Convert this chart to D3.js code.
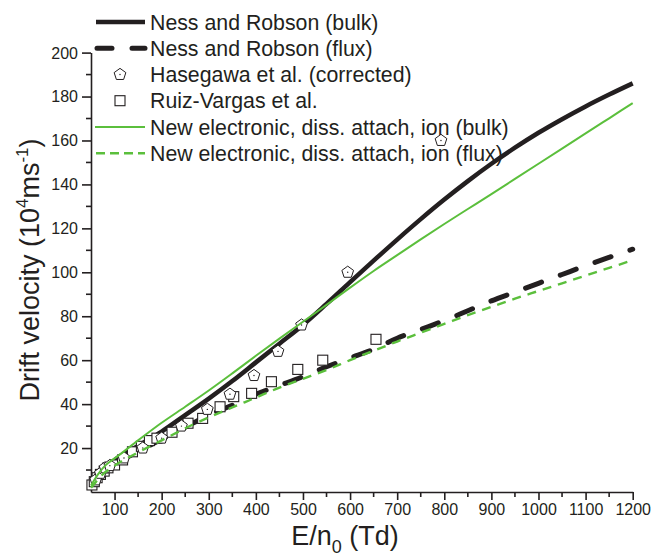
<!DOCTYPE html>
<html>
<head>
<meta charset="utf-8">
<script src="https://cdn.jsdelivr.net/npm/d3@7"></script>
<style>
  body { margin: 0; background: #fff; }
  svg { display: block; font-family: Arial, "Liberation Sans", sans-serif; }
</style>
</head>
<body>
<div id="chart"></div>
<script>
var width = 652, height = 556;

// E/n0 grid (Td) shared by the four computed curves
var fieldTd = [50, 60, 70, 80, 90, 100, 150, 200, 250, 300, 350, 400, 450, 500, 550, 600,
  650, 700, 750, 800, 850, 900, 950, 1000, 1050, 1100, 1150, 1200];

var nessBulk = [2, 5, 8, 10.5, 12.5, 14.5, 21, 27.5, 35, 42.5, 50.5, 59, 67.5, 76, 85.6, 95.5,
  105.3, 114.9, 124.2, 133.1, 141.5, 149.4, 156.7, 163.5, 169.7, 175.5, 180.9, 186];
var nessFlux = [2, 4.5, 7, 9, 11, 12.5, 18.5, 24, 29.5, 35, 39.5, 44.5, 48.5, 52.5, 57, 61,
  65, 70, 74, 78, 82.5, 87, 91, 95, 99, 103, 106.8, 110.5];
var newBulk = [3, 6.5, 9.5, 12, 13.8, 15.3, 23.5, 31.5, 38.8, 46.2, 54, 62, 69.8, 77.5, 85.2, 93,
  100.6, 107.8, 115, 122, 128.8, 135.6, 142.5, 149.4, 156.3, 163.2, 170.1, 177];
var newFlux = [2, 4.5, 7, 9, 10.5, 12, 18, 23.5, 29, 34, 38.5, 43, 47.5, 51.5, 55.5, 60,
  64.3, 68.5, 72.5, 76.5, 80.5, 84.3, 88, 91.5, 95, 98.5, 102, 105.5];

// measurements
var hasegawaX = [60, 70, 80, 90, 120, 160, 200, 242, 297, 345, 396, 447, 497, 595, 793];
var hasegawaY = [5.5, 8.5, 11, 12, 15.5, 20, 24.5, 30, 37.6, 44.5, 53, 64, 76, 100, 160];
var ruizX = [52, 57, 63, 70, 78, 86, 100, 117, 138, 157, 174, 190, 222, 256, 287, 324, 353, 391, 433, 489, 542, 655];
var ruizY = [3.2, 4.7, 6.5, 8, 9.5, 11, 12.3, 14.6, 18.3, 20.8, 23.4, 24.5, 27.2, 31.3, 33.5, 38.8, 43.4, 44.9, 50.2, 55.8, 60, 69.5];

var xMajor = [100, 200, 300, 400, 500, 600, 700, 800, 900, 1000, 1100, 1200];
var yMajor = [20, 40, 60, 80, 100, 120, 140, 160, 180, 200];

var legendLabels = ["Ness and Robson (bulk)", "Ness and Robson (flux)", "Hasegawa et al. (corrected)",
  "Ruiz-Vargas et al.", "New electronic, diss. attach, ion (bulk)", "New electronic, diss. attach, ion (flux)"];

var ink = "#231f20", green = "#5bbf3c";

var x = d3.scaleLinear().domain([50, 1200]).range([91, 632.7]);
var y = d3.scaleLinear().domain([0, 200]).range([492, 52.6]);

var svg = d3.select("#chart").append("svg")
    .attr("width", width)
    .attr("height", height);

// axes
var xAxis = d3.axisBottom(x).tickValues(xMajor).tickFormat(d3.format("d"))
    .tickSize(8).tickPadding(4).tickSizeOuter(0);
var yAxis = d3.axisLeft(y).tickValues(yMajor).tickFormat(d3.format("d"))
    .tickSize(9).tickPadding(4).tickSizeOuter(0);

var gx = svg.append("g").attr("transform", "translate(0," + y(0) + ")").call(xAxis);
var gy = svg.append("g").attr("transform", "translate(" + x(50) + ",0)").call(yAxis);

// minor ticks
gx.selectAll(".minor").data(d3.range(150, 1200, 100)).enter().append("line")
    .attr("x1", d => x(d)).attr("x2", d => x(d)).attr("y1", 0).attr("y2", 5);
gy.selectAll(".minor").data(d3.range(10, 200, 20)).enter().append("line")
    .attr("y1", d => y(d)).attr("y2", d => y(d)).attr("x1", 0).attr("x2", -5);

[gx, gy].forEach(function (g) {
  g.selectAll("path.domain").attr("stroke", ink).attr("stroke-width", 1.6);
  g.selectAll("line").attr("stroke", ink).attr("stroke-width", 1.6);
  g.selectAll("text").attr("fill", ink).style("font-size", "16px").style("font-family", "Arial, 'Liberation Sans', sans-serif");
});
gy.selectAll(".tick text").attr("dy", "0.34em");

// curves
var line = d3.line()
    .x(d => x(d[0]))
    .y(d => y(d[1]))
    .curve(d3.curveMonotoneX);

function pairs(xs, ys) { return xs.map((v, i) => [v, ys[i]]); }

svg.append("path").datum(pairs(fieldTd, nessBulk))
    .attr("d", line).attr("fill", "none").attr("stroke", ink).attr("stroke-width", 4.5);
svg.append("path").datum(pairs(fieldTd, nessFlux))
    .attr("d", line).attr("fill", "none").attr("stroke", ink).attr("stroke-width", 5)
    .attr("stroke-linecap", "round").attr("stroke-dasharray", "17,20");

// pentagon symbol
var pentagon = {
  draw: function (context, size) {
    var r = Math.sqrt(size / 2.378);
    for (var i = 0; i < 5; i++) {
      var a = -Math.PI / 2 + i * 2 * Math.PI / 5;
      if (i === 0) context.moveTo(r * Math.cos(a), r * Math.sin(a));
      else context.lineTo(r * Math.cos(a), r * Math.sin(a));
    }
    context.closePath();
  }
};

function drawPentagon(g, px, py) {
  g.append("path").attr("d", d3.symbol().type(pentagon).size(90)())
      .attr("transform", "translate(" + px + "," + py + ")")
      .attr("fill", "#fff").attr("stroke", ink).attr("stroke-width", 1);
  g.append("circle").attr("cx", px).attr("cy", py).attr("r", 0.7).attr("fill", ink);
}
function drawSquare(g, px, py) {
  g.append("rect").attr("x", px - 5).attr("y", py - 5).attr("width", 10).attr("height", 10)
      .attr("fill", "#fff").attr("stroke", ink).attr("stroke-width", 1.1);
}

var marks = svg.append("g");
ruizX.forEach(function (v, i) { drawSquare(marks, x(v), y(ruizY[i])); });
hasegawaX.forEach(function (v, i) { drawPentagon(marks, x(v), y(hasegawaY[i])); });

svg.append("path").datum(pairs(fieldTd, newBulk))
    .attr("d", line).attr("fill", "none").attr("stroke", green).attr("stroke-width", 2);
svg.append("path").datum(pairs(fieldTd, newFlux))
    .attr("d", line).attr("fill", "none").attr("stroke", green).attr("stroke-width", 2.4)
    .attr("stroke-dasharray", "9,7");

// legend
var leg = svg.append("g");
var rowY = [22, 48.3, 74.5, 100.7, 127, 153.3];
leg.append("line").attr("x1", 96).attr("x2", 145).attr("y1", rowY[0]).attr("y2", rowY[0])
    .attr("stroke", ink).attr("stroke-width", 4.5);
leg.append("line").attr("x1", 97).attr("x2", 145).attr("y1", rowY[1]).attr("y2", rowY[1])
    .attr("stroke", ink).attr("stroke-width", 5).attr("stroke-linecap", "round")
    .attr("stroke-dasharray", "15,20");
drawPentagon(leg, 120, rowY[2]);
drawSquare(leg, 120, rowY[3]);
leg.append("line").attr("x1", 95).attr("x2", 145).attr("y1", rowY[4]).attr("y2", rowY[4])
    .attr("stroke", green).attr("stroke-width", 2);
leg.append("line").attr("x1", 96).attr("x2", 145).attr("y1", rowY[5]).attr("y2", rowY[5])
    .attr("stroke", green).attr("stroke-width", 2.4).attr("stroke-dasharray", "9,5");

leg.selectAll("text.lab").data(legendLabels).enter().append("text")
    .attr("class", "lab")
    .attr("x", 150).attr("y", (d, i) => rowY[i] + 7.5)
    .attr("fill", ink).style("font-size", "21.3px")
    .text(d => d);

// axis titles
var xt = svg.append("text").attr("x", 345).attr("y", 545).attr("text-anchor", "middle")
    .attr("fill", ink).style("font-size", "27px");
xt.append("tspan").text("E/n");
xt.append("tspan").attr("dy", 8).style("font-size", "18px").text("0");
xt.append("tspan").attr("dy", -8).text(" (Td)");

var yt = svg.append("text").attr("transform", "translate(39,270) rotate(-90)")
    .attr("text-anchor", "middle").attr("fill", ink).style("font-size", "27px");
yt.append("tspan").text("Drift velocity (10");
yt.append("tspan").attr("dy", -11).style("font-size", "17px").text("4");
yt.append("tspan").attr("dy", 11).text("ms");
yt.append("tspan").attr("dy", -11).style("font-size", "17px").text("-1");
yt.append("tspan").attr("dy", 11).text(")");
</script>
</body>
</html>
